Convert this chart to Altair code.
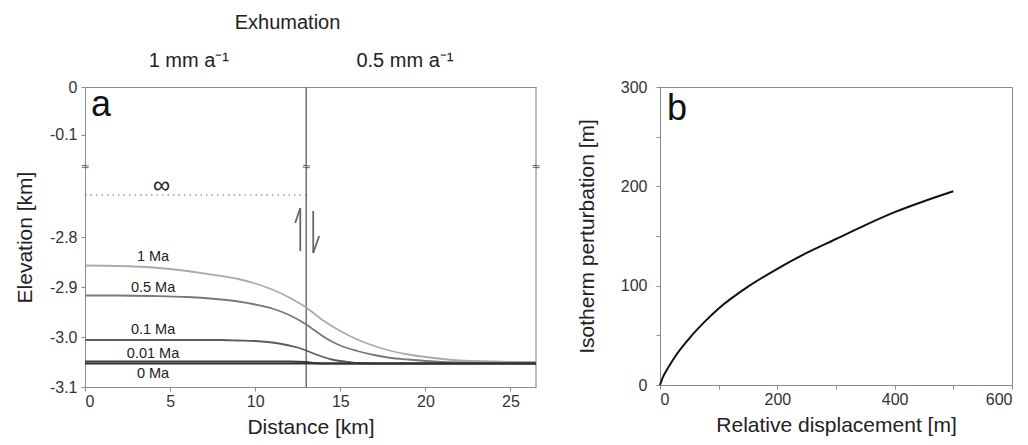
import altair as alt
import pandas as pd

FONT = "Liberation Sans"
FRAME = "#8a8a8a"

# ---------------- Panel a data ----------------
x_1ma = [0, 2, 4, 6, 7, 8, 9, 10, 11, 12, 13, 14, 15, 16, 17, 18, 19, 20, 21, 22, 23, 24, 26.5]
y_1ma = [-2.857, -2.858, -2.861, -2.868, -2.873, -2.878, -2.884, -2.893, -2.905, -2.921, -2.941,
         -2.967, -2.988, -3.005, -3.018, -3.028, -3.035, -3.040, -3.044, -3.047, -3.048, -3.049, -3.050]

x_05ma = [0, 2, 4, 6, 7, 8, 9, 10, 11, 12, 13, 13.5, 14, 14.5, 15, 16, 17, 18, 19, 20, 21, 22, 24, 26.5]
y_05ma = [-2.917, -2.917, -2.918, -2.920, -2.922, -2.925, -2.929, -2.935, -2.943, -2.956, -2.975,
          -2.987, -2.999, -3.009, -3.017, -3.028, -3.036, -3.042, -3.045, -3.048, -3.050, -3.051,
          -3.052, -3.052]

x_01ma = [0, 4, 8, 9, 10, 11, 12, 12.5, 13, 13.5, 14, 14.5, 15, 15.5, 16, 17, 26.5]
y_01ma = [-3.006, -3.006, -3.006, -3.007, -3.008, -3.011, -3.017, -3.021, -3.027, -3.034, -3.040,
          -3.045, -3.048, -3.050, -3.052, -3.053, -3.053]

x_001ma = [0, 12, 13, 13.5, 14, 26.5]
y_001ma = [-3.049, -3.049, -3.050, -3.052, -3.053, -3.053]

x_0ma = [0, 26.5]
y_0ma = [-3.053, -3.053]

series_names = ["1 Ma", "0.5 Ma", "0.1 Ma", "0.01 Ma", "0 Ma"]
series_x = [x_1ma, x_05ma, x_01ma, x_001ma, x_0ma]
series_y = [y_1ma, y_05ma, y_01ma, y_001ma, y_0ma]
series_colors = ["#ababab", "#787878", "#5c5c5c", "#3c3c3c", "#333333"]

label_x = [4.0, 4.0, 4.0, 4.0, 4.0]
label_y = [-2.840, -2.902, -2.986, -3.034, -3.074]

inf_x, inf_y = [4.5], [-2.698]
dotted_x, dotted_y = [0, 13], [-2.716, -2.716]

fault_x = 13.0
x_max = 26.5

# harpoon arrows (segments)
arrow_seg = ["up", "up", "upb", "upb", "dn", "dn", "dnb", "dnb"]
arrow_x = [12.65, 12.65, 12.65, 12.35, 13.41, 13.41, 13.41, 13.76]
arrow_y = [-2.828, -2.742, -2.742, -2.772, -2.748, -2.832, -2.832, -2.798]

header_text = ["Exhumation", "1 mm a⁻¹", "0.5 mm a⁻¹"]
header_x = [11.9, 6.1, 18.8]
header_off = [-64, -26, -26]

# ---------------- Panel b data ----------------
disp_x = [0, 5, 12.5, 25, 50, 75, 100, 150, 200, 250, 300, 350, 400, 450, 500]
pert_y = [0, 8, 16, 28, 47, 63, 77, 99, 117, 133, 147, 161, 174, 185, 195]

# ---------------- build frames ----------------
rows = []
for n, xs, ys in zip(series_names, series_x, series_y):
    for xv, yv in zip(xs, ys):
        rows.append({"series": n, "x": xv, "y": yv})
df_lines = pd.DataFrame(rows)
df_labels = pd.DataFrame({"series": series_names, "x": label_x, "y": label_y})
df_dotted = pd.DataFrame({"x": dotted_x, "y": dotted_y})
df_inf = pd.DataFrame({"x": inf_x, "y": inf_y, "t": ["∞"]})
df_arrow = pd.DataFrame({"seg": arrow_seg, "x": arrow_x, "y": arrow_y})
df_b = pd.DataFrame({"x": disp_x, "y": pert_y})
df_head = pd.DataFrame({"t": header_text, "x": header_x, "yy": header_off})
df_break = pd.DataFrame({"x": [0, fault_x, x_max], "t": ["≈", "≈", "≈"]})
one = pd.DataFrame({"x": [0], "y": [0]})

W_A = 451
H_TOP = 80
H_BOT = 220

TICK_FS = 16
TITLE_FS = 21

xscale = alt.Scale(domain=[0, x_max], nice=False, zero=False)
color_scale = alt.Scale(domain=series_names, range=series_colors)

lab_expr = "datum.value == 0 ? '0' : (datum.value < 0 ? '-' : '') + format(abs(datum.value), '.1f')"

axis_common = dict(grid=False, domainColor=FRAME, tickColor=FRAME, tickSize=4,
                   labelFontSize=TICK_FS, labelColor="#333", labelFont=FONT,
                   titleFont=FONT, titleFontSize=TITLE_FS, titleFontWeight="normal",
                   titleColor="#222")

# ---- top segment of panel a ----
top_x_axis = alt.Axis(orient="top", labels=False, ticks=False, domain=True,
                      domainColor=FRAME, grid=False, title=None)
top_y_axis = alt.Axis(values=[0, -0.1], labelExpr=lab_expr, title=None, labelPadding=4,
                      **axis_common)
top_yscale = alt.Scale(domain=[-0.167, 0], nice=False, zero=False)

top_axis = alt.Chart(one).mark_point(opacity=0).encode(
    x=alt.X("x:Q", scale=xscale, axis=top_x_axis),
    y=alt.Y("y:Q", scale=top_yscale, axis=top_y_axis),
)
top_fault = alt.Chart(one).mark_rule(color="#707070", strokeWidth=1.5).encode(
    x=alt.XDatum(fault_x, scale=xscale, axis=top_x_axis), y=alt.value(0), y2=alt.value(H_TOP))
top_right = alt.Chart(one).mark_rule(color=FRAME, strokeWidth=1.2).encode(
    x=alt.XDatum(x_max, scale=xscale, axis=top_x_axis), y=alt.value(0), y2=alt.value(H_TOP))
top_a = alt.Chart(one).mark_text(text="a", fontSize=36, font=FONT, align="left",
                                 baseline="alphabetic", color="#111").encode(
    x=alt.value(6), y=alt.value(29))
top_head = alt.Chart(df_head).mark_text(fontSize=20, font=FONT, color="#222",
                                        align="center", baseline="middle").encode(
    x=alt.X("x:Q", scale=xscale, axis=top_x_axis), y=alt.Y("yy:Q", scale=None), text="t:N")

top_chart = alt.layer(top_axis, top_fault, top_right, top_a, top_head).properties(
    width=W_A, height=H_TOP)

# ---- bottom segment of panel a ----
yscale_bot = alt.Scale(domain=[-3.1, -2.66], nice=False, zero=False)
bot_x_axis = alt.Axis(values=[0, 5, 10, 15, 20, 25], title="Distance [km]",
                      titlePadding=7, labelPadding=2, **axis_common)
bot_y_axis = alt.Axis(values=[-2.8, -2.9, -3.0, -3.1], labelExpr=lab_expr,
                      title="Elevation [km]", titleY=70, titlePadding=14, labelPadding=4,
                      **axis_common)

bot_lines = alt.Chart(df_lines).mark_line(strokeWidth=1.8, interpolate="monotone").encode(
    x=alt.X("x:Q", scale=xscale, axis=bot_x_axis),
    y=alt.Y("y:Q", scale=yscale_bot, axis=bot_y_axis),
    color=alt.Color("series:N", scale=color_scale, legend=None),
    detail="series:N",
    order=alt.Order("x:Q"),
)
bot_labels = alt.Chart(df_labels).mark_text(fontSize=14.5, font=FONT, color="#222",
                                            align="center", baseline="middle").encode(
    x=alt.X("x:Q", scale=xscale, axis=bot_x_axis),
    y=alt.Y("y:Q", scale=yscale_bot, axis=bot_y_axis), text="series:N")
bot_dotted = alt.Chart(df_dotted).mark_line(color="#666", strokeWidth=1,
                                            strokeDash=[1.5, 4]).encode(
    x=alt.X("x:Q", scale=xscale, axis=bot_x_axis),
    y=alt.Y("y:Q", scale=yscale_bot, axis=bot_y_axis))
bot_inf = alt.Chart(df_inf).mark_text(fontSize=24, font=FONT, color="#222",
                                      baseline="middle").encode(
    x=alt.X("x:Q", scale=xscale, axis=bot_x_axis),
    y=alt.Y("y:Q", scale=yscale_bot, axis=bot_y_axis), text="t:N")
bot_arrow = alt.Chart(df_arrow).mark_line(color="#666", strokeWidth=1.8).encode(
    x=alt.X("x:Q", scale=xscale, axis=bot_x_axis),
    y=alt.Y("y:Q", scale=yscale_bot, axis=bot_y_axis), detail="seg:N")
bot_fault = alt.Chart(one).mark_rule(color="#707070", strokeWidth=1.5).encode(
    x=alt.XDatum(fault_x, scale=xscale, axis=bot_x_axis), y=alt.value(0), y2=alt.value(H_BOT))
bot_right = alt.Chart(one).mark_rule(color=FRAME, strokeWidth=1.2).encode(
    x=alt.XDatum(x_max, scale=xscale, axis=bot_x_axis), y=alt.value(0), y2=alt.value(H_BOT))
bot_break = alt.Chart(df_break).mark_text(fontSize=11, font="DejaVu Sans", color="#555",
                                          baseline="middle").encode(
    x=alt.X("x:Q", scale=xscale, axis=bot_x_axis), y=alt.value(0), text="t:N")

bot_chart = alt.layer(bot_fault, bot_right, bot_dotted, bot_lines, bot_labels, bot_inf,
                      bot_arrow, bot_break).properties(width=W_A, height=H_BOT)

panel_a = alt.vconcat(top_chart, bot_chart, spacing=0, bounds="flush").resolve_scale(
    x="independent", y="independent")

# ---------------- Panel b ----------------
b_line = alt.Chart(df_b).mark_line(color="#111", strokeWidth=2, interpolate="monotone").encode(
    x=alt.X("x:Q", scale=alt.Scale(domain=[0, 600], nice=False),
            axis=alt.Axis(values=[0, 100, 200, 300, 400, 500, 600],
                          labelExpr="datum.value % 200 == 0 ? datum.label : ''",
                          title="Relative displacement [m]", titlePadding=7, labelPadding=2,
                          **axis_common)),
    y=alt.Y("y:Q", scale=alt.Scale(domain=[0, 300], nice=False),
            axis=alt.Axis(values=[0, 50, 100, 150, 200, 250, 300],
                          labelExpr="datum.value % 100 == 0 ? datum.label : ''",
                          title="Isotherm perturbation [m]", titlePadding=23, labelPadding=9,
                          **axis_common)),
    order=alt.Order("x:Q"),
)
b_label = alt.Chart(one).mark_text(
    text="b", fontSize=36, font=FONT, align="left", baseline="alphabetic", color="#111").encode(
    x=alt.value(7), y=alt.value(33))
panel_b = alt.layer(b_line, b_label).properties(
    width=352, height=298, view=alt.ViewBackground(stroke=FRAME))

chart = alt.hconcat(panel_a, panel_b, spacing=33).configure(
    background="white", font=FONT).configure_view(stroke="transparent").properties(
    padding={"left": 5, "top": 4, "right": 5, "bottom": 0})

chart.save("out.html", embed_options={"renderer": "svg", "actions": False})
